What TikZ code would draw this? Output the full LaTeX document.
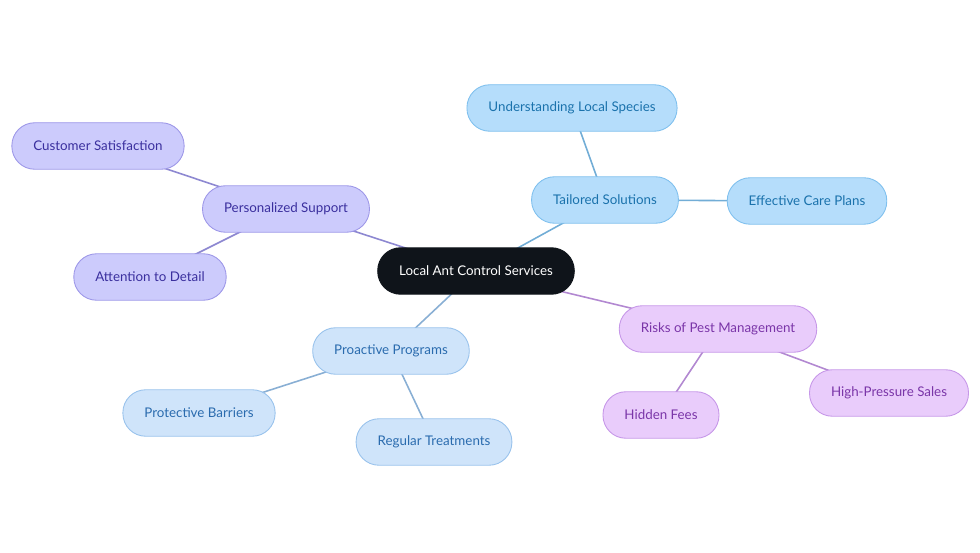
\documentclass[tikz,border=0pt]{standalone}
\usepackage{fontspec}
\setmainfont{Lato}
\usetikzlibrary{positioning,backgrounds}

\definecolor{rootfill}{HTML}{0F141A}
\definecolor{tsfill}{HTML}{B5DDFB}
\definecolor{tsdraw}{HTML}{7FC0EE}
\definecolor{tstext}{HTML}{1A72AC}
\definecolor{psfill}{HTML}{CCCBFC}
\definecolor{psdraw}{HTML}{9D97E8}
\definecolor{pstext}{HTML}{3A2F9E}
\definecolor{ppfill}{HTML}{CFE4FA}
\definecolor{ppdraw}{HTML}{98C2EC}
\definecolor{pptext}{HTML}{2A6BAE}
\definecolor{rkfill}{HTML}{E9CCFB}
\definecolor{rkdraw}{HTML}{C697E8}
\definecolor{rktext}{HTML}{7A35A8}

\begin{document}
\begin{tikzpicture}[
  x=0.02cm, y=-0.02cm,
  every node/.style={font=\fontsize{7.6}{9}\selectfont},
  pill/.style={rectangle, rounded corners=13pt, minimum height=0.93cm, inner xsep=0.43cm, draw, line width=0.5pt},
  root/.style={pill, fill=rootfill, draw=rootfill, text=white},
  tsnode/.style={pill, fill=tsfill, draw=tsdraw, text=tstext},
  psnode/.style={pill, fill=psfill, draw=psdraw, text=pstext},
  ppnode/.style={pill, fill=ppfill, draw=ppdraw, text=pptext},
  rknode/.style={pill, fill=rkfill, draw=rkdraw, text=rktext},
  tsedge/.style={line width=0.9pt, draw=tsdraw!90!black},
  psedge/.style={line width=0.9pt, draw=psdraw!90!black},
  ppedge/.style={line width=0.9pt, draw=ppdraw!90!black},
  rkedge/.style={line width=0.9pt, draw=rkdraw!90!black},
]
  \useasboundingbox (0,0) rectangle (980,553);

  % Root
  \node[root] (root) at (476,271) {Local Ant Control Services};

  % Tailored branch
  \node[tsnode] (tailored) at (605,200) {Tailored Solutions};
  \node[tsnode] (species) at (572,108) {Understanding Local Species};
  \node[tsnode] (care) at (807,201) {Effective Care Plans};

  % Personalized branch
  \node[psnode] (support) at (286,209) {Personalized Support};
  \node[psnode] (satisfaction) at (98,146) {Customer Satisfaction};
  \node[psnode] (detail) at (150,277) {Attention to Detail};

  % Proactive branch
  \node[ppnode] (proactive) at (391,351) {Proactive Programs};
  \node[ppnode] (barriers) at (199,413) {Protective Barriers};
  \node[ppnode] (treatments) at (434,442) {Regular Treatments};

  % Risks branch
  \node[rknode] (risks) at (718,329) {Risks of Pest Management};
  \node[rknode] (fees) at (661,415) {Hidden Fees};
  \node[rknode] (sales) at (889,393) {High-Pressure Sales};

  % Connectors
  \begin{scope}[on background layer]
    \draw[tsedge] (root.center) -- (tailored.center);
    \draw[tsedge] (tailored.center) -- (species.center);
    \draw[tsedge] (tailored.center) -- (care.center);
    \draw[psedge] (root.center) -- (support.center);
    \draw[psedge] (support.center) -- (satisfaction.center);
    \draw[psedge] (support.center) -- (detail.center);
    \draw[ppedge] (root.center) -- (proactive.center);
    \draw[ppedge] (proactive.center) -- (barriers.center);
    \draw[ppedge] (proactive.center) -- (treatments.center);
    \draw[rkedge] (root.center) -- (risks.center);
    \draw[rkedge] (risks.center) -- (fees.center);
    \draw[rkedge] (risks.center) -- (sales.center);
  \end{scope}
\end{tikzpicture}
\end{document}
